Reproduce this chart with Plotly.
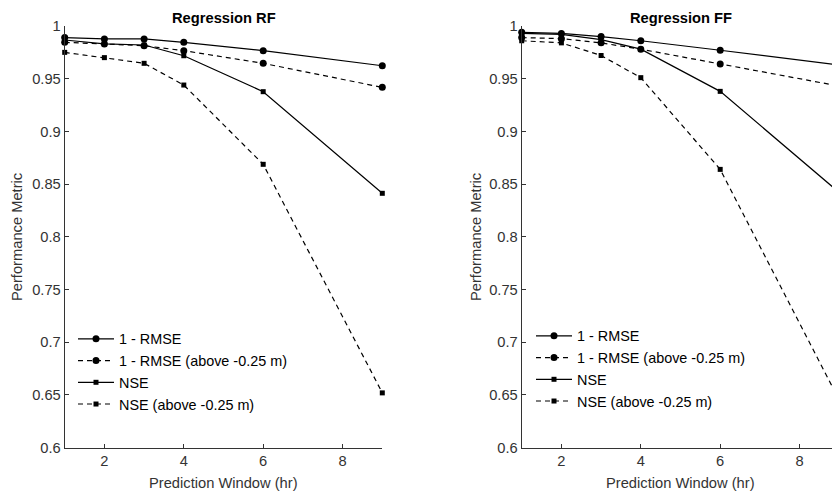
import plotly.graph_objects as go

W, H = 832, 493

x_hours = [1, 2, 3, 4, 6, 9]

# Regression RF
rf_rmse = [0.989, 0.9877, 0.9877, 0.9845, 0.9766, 0.9623]
rf_rmse_above = [0.9845, 0.983, 0.9813, 0.9766, 0.9646, 0.9418]
rf_nse = [0.9867, 0.983, 0.982, 0.9718, 0.9377, 0.8413]
rf_nse_above = [0.975, 0.970, 0.9646, 0.944, 0.8688, 0.652]

# Regression FF
ff_rmse = [0.994, 0.993, 0.990, 0.986, 0.977, 0.963]
ff_rmse_above = [0.989, 0.988, 0.984, 0.978, 0.964, 0.943]
ff_nse = [0.993, 0.992, 0.987, 0.978, 0.938, 0.842]
ff_nse_above = [0.986, 0.984, 0.972, 0.951, 0.864, 0.645]

series_names = ["1 - RMSE", "1 - RMSE (above -0.25 m)", "NSE", "NSE (above -0.25 m)"]
y_ticks = [0.6, 0.65, 0.7, 0.75, 0.8, 0.85, 0.9, 0.95, 1.0]
y_tick_text = ["0.6", "0.65", "0.7", "0.75", "0.8", "0.85", "0.9", "0.95", "1"]
x_ticks = [2, 4, 6, 8]

panels = [
    ("Regression RF", [rf_rmse, rf_rmse_above, rf_nse, rf_nse_above]),
    ("Regression FF", [ff_rmse, ff_rmse_above, ff_nse, ff_nse_above]),
]

styles = [
    dict(dash="solid", symbol="circle", size=7),
    dict(dash="5px,4px", symbol="circle", size=7),
    dict(dash="solid", symbol="square", size=5),
    dict(dash="5px,4px", symbol="square", size=5),
]

INK = "#333333"
FONT = "Liberation Sans, Arial, sans-serif"
FS = 14.7
LFS = 14.4

fig = go.Figure()

# pixel geometry
left_x0, left_x1 = 64.7, 382.3
right_x0 = 521.7
px_per_unit = (left_x1 - left_x0) / 8.0
right_xmax = 1 + (W - right_x0) / px_per_unit
y_top, y_bot = 26.0, 447.7

domains = [[left_x0 / W, left_x1 / W], [right_x0 / W, 1.0]]
ydom = [1 - y_bot / H, 1 - y_top / H]
xranges = [[1, 9], [1, right_xmax]]
centers = [(left_x0 + left_x1) / 2, (right_x0 + right_x0 + 8 * px_per_unit) / 2]

for p, (title, data) in enumerate(panels):
    xa = "x" if p == 0 else "x2"
    ya = "y" if p == 0 else "y2"
    leg = "legend" if p == 0 else "legend2"
    for name, vals, st in zip(series_names, data, styles):
        fig.add_trace(go.Scatter(
            x=x_hours, y=vals, name=name, mode="lines+markers",
            line=dict(color="black", width=1.2, dash=st["dash"]),
            marker=dict(color="black", symbol=st["symbol"], size=st["size"]),
            xaxis=xa, yaxis=ya, legend=leg, cliponaxis=False,
        ))
    fig.add_annotation(text="<b>" + title + "</b>", x=centers[p] / W, y=1 - 18 / H,
                       xref="paper", yref="paper", showarrow=False,
                       font=dict(size=FS, color="black", family=FONT),
                       xanchor="center", yanchor="middle")
    fig.add_annotation(text="Prediction Window (hr)", x=centers[p] / W, y=1 - 483 / H,
                       xref="paper", yref="paper", showarrow=False,
                       font=dict(size=FS, color=INK, family=FONT),
                       xanchor="center", yanchor="middle")
    ylab_x = 17 if p == 0 else 476
    fig.add_annotation(text="Performance Metric", x=ylab_x / W, y=1 - 237 / H,
                       xref="paper", yref="paper", showarrow=False, textangle=-90,
                       font=dict(size=FS, color=INK, family=FONT),
                       xanchor="center", yanchor="middle")

axis_common = dict(showline=True, linecolor=INK, linewidth=1, ticks="inside",
                   ticklen=4, tickcolor=INK, showgrid=False, zeroline=False,
                   tickfont=dict(size=FS, color=INK, family=FONT), mirror=False,
                   automargin=False)

fig.update_layout(
    width=W, height=H,
    margin=dict(l=0, r=0, t=0, b=0),
    paper_bgcolor="white", plot_bgcolor="white",
    font=dict(family=FONT, color=INK),
    xaxis=dict(domain=domains[0], range=xranges[0], tickvals=x_ticks, anchor="y", **axis_common),
    yaxis=dict(domain=ydom, range=[0.6, 1.0], tickvals=y_ticks, ticktext=y_tick_text, anchor="x", **axis_common),
    xaxis2=dict(domain=domains[1], range=xranges[1], tickvals=x_ticks, anchor="y2", **axis_common),
    yaxis2=dict(domain=ydom, range=[0.6, 1.0], tickvals=y_ticks, ticktext=y_tick_text, anchor="x2", **axis_common),
    legend=dict(x=73 / W, y=1 - 323 / H, xanchor="left", yanchor="top",
                bgcolor="rgba(0,0,0,0)", font=dict(size=LFS, color="black", family=FONT),
                tracegroupgap=0, itemwidth=36),
    legend2=dict(x=531 / W, y=1 - 320 / H, xanchor="left", yanchor="top",
                 bgcolor="rgba(0,0,0,0)", font=dict(size=LFS, color="black", family=FONT),
                 tracegroupgap=0, itemwidth=36),
    showlegend=True,
)

fig.write_html("out.html")
